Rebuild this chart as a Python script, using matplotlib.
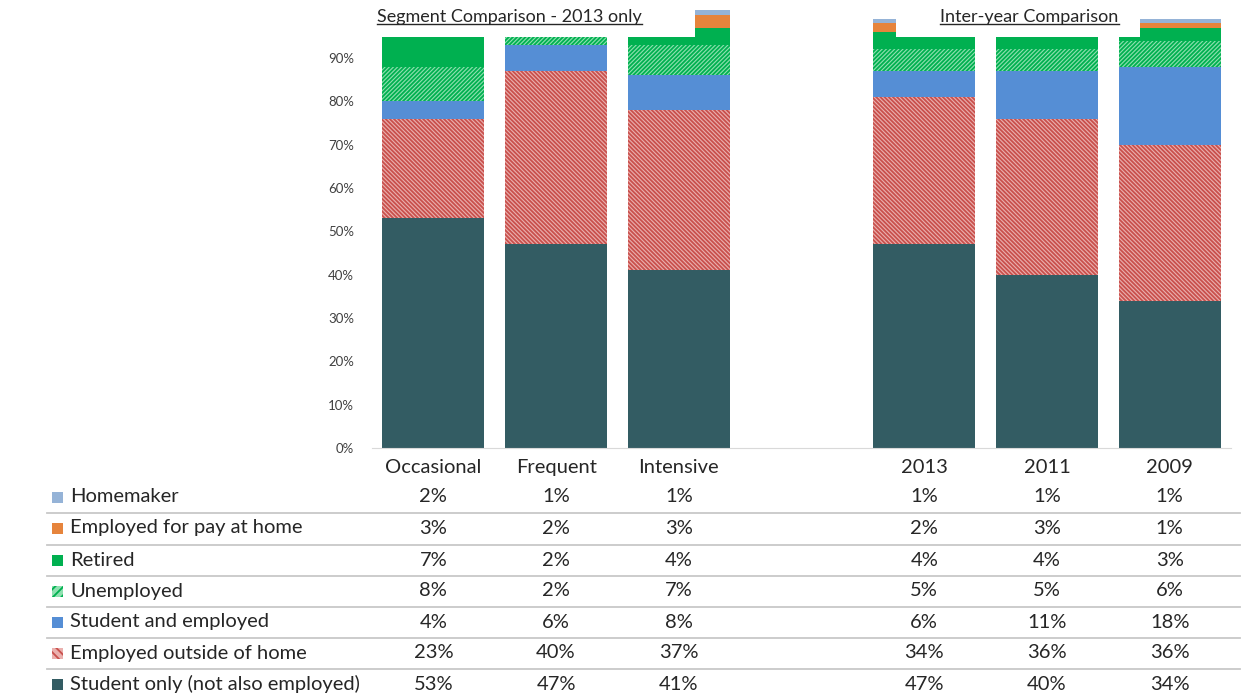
import matplotlib
matplotlib.use("Agg")
import matplotlib.pyplot as plt
from matplotlib.patches import Rectangle
from matplotlib.lines import Line2D
import numpy as np

plt.rcParams['font.family'] = ['Lato', 'DejaVu Sans']
plt.rcParams['hatch.linewidth'] = 1.3

# Категории: три сегмента 2013 года, пустой промежуток, затем годы
categories = ['Occasional', 'Frequent', 'Intensive', '', '2013', '2011', '2009']

# Доли по группам, снизу вверх (в процентах); None - пустая колонка
student_only = [53, 47, 41, None, 47, 40, 34]
employed_outside = [23, 40, 37, None, 34, 36, 36]
student_employed = [4, 6, 8, None, 6, 11, 18]
unemployed = [8, 2, 7, None, 5, 5, 6]
retired = [7, 2, 4, None, 4, 4, 3]
employed_home = [3, 2, 3, None, 2, 3, 1]
homemaker = [2, 1, 1, None, 1, 1, 1]

series = [
    ('Student only (not also employed)', student_only, '#335c63', None, None),
    ('Employed outside of home', employed_outside, '#eab0ae', '#c9504c', '\\' * 8),
    ('Student and employed', student_employed, '#558ed5', None, None),
    ('Unemployed', unemployed, '#8fe0b0', '#00b050', '/' * 8),
    ('Retired', retired, '#00b050', None, None),
    ('Employed for pay at home', employed_home, '#e6843c', None, None),
    ('Homemaker', homemaker, '#95b3d7', None, None),
]

fig = plt.figure(figsize=(12.5, 7), dpi=100)
ymax = 1.01
ax_h = 433.3 * ymax / 700
ax = fig.add_axes([0.2976, 0.36, 0.6872, ax_h])

x = np.arange(len(categories))
bottom = np.zeros(len(categories))
for name, vals, color, hcolor, hatch in series:
    v = np.array([np.nan if a is None else a for a in vals], dtype=float) / 100
    if hatch:
        ax.bar(x, v, 0.83, bottom=bottom, color=color, edgecolor=hcolor,
               hatch=hatch, linewidth=0, zorder=2)
    else:
        ax.bar(x, v, 0.83, bottom=bottom, color=color, linewidth=0, zorder=2)
    bottom = bottom + np.nan_to_num(v)

ax.set_xlim(-0.5, len(categories) - 0.5)
ax.set_ylim(0, ymax)
ticks = np.arange(0, 10) / 10
ax.set_yticks(ticks)
ax.set_yticklabels(['%d%%' % round(t * 100) for t in ticks])
ax.tick_params(axis='y', length=0, labelsize=9.5, labelcolor='#404040', pad=13)
ax.set_xticks(x)
ax.set_xticklabels(categories)
ax.tick_params(axis='x', length=0, labelsize=14.5, labelcolor='#262626', pad=8)
for s in ['top', 'right', 'left']:
    ax.spines[s].set_visible(False)
ax.spines['bottom'].set_color('#d9d9d9')

# белые плашки под заголовками групп
ax.add_patch(Rectangle((-0.6, 0.948), 2.73, 0.1, facecolor='white',
                       edgecolor='none', zorder=3))
ax.add_patch(Rectangle((3.77, 0.948), 1.99, 0.1, facecolor='white',
                       edgecolor='none', zorder=3))

fig.canvas.draw()
renderer = fig.canvas.get_renderer()


def underlined(xc, yc, text):
    t = fig.text(xc, yc, text, ha='center', va='center', fontsize=13,
                 color='#262626', zorder=5)
    bb = t.get_window_extent(renderer).transformed(fig.transFigure.inverted())
    fig.add_artist(Line2D([bb.x0, bb.x1], [bb.y0 + 0.002, bb.y0 + 0.002],
                          color='#262626', lw=1.0))


underlined(509.5 / 1250, 1 - 17 / 700, 'Segment Comparison - 2013 only')
underlined(1029.5 / 1250, 1 - 17 / 700, 'Inter-year Comparison')

# таблица значений под графиком
row_y = [497, 528, 560, 591, 622, 653, 684]
sep_y = [513, 545, 576, 607, 638, 669]
for i, (name, vals, color, hcolor, hatch) in enumerate(reversed(series)):
    yf = 1 - row_y[i] / 700
    sq = Rectangle((52 / 1250, yf - 5.5 / 700), 11 / 1250, 11 / 700,
                   transform=fig.transFigure, facecolor=color,
                   edgecolor=hcolor if hatch else 'none',
                   hatch=hatch[:4] if hatch else None, linewidth=0)
    fig.add_artist(sq)
    fig.text(70 / 1250, yf, name, ha='left', va='center', fontsize=14.5,
             color='#262626')
    for xi, v in zip(x, vals):
        if v is None:
            continue
        xf = fig.transFigure.inverted().transform(ax.transData.transform((xi, 0)))[0]
        fig.text(xf, yf, '%d%%' % v, ha='center', va='center', fontsize=14.5,
                 color='#262626')

for sy in sep_y:
    fig.add_artist(Line2D([47 / 1250, 1240 / 1250], [1 - sy / 700] * 2,
                          color='#c8c8c8', lw=1.3))

fig.savefig('out.png', dpi=100)
